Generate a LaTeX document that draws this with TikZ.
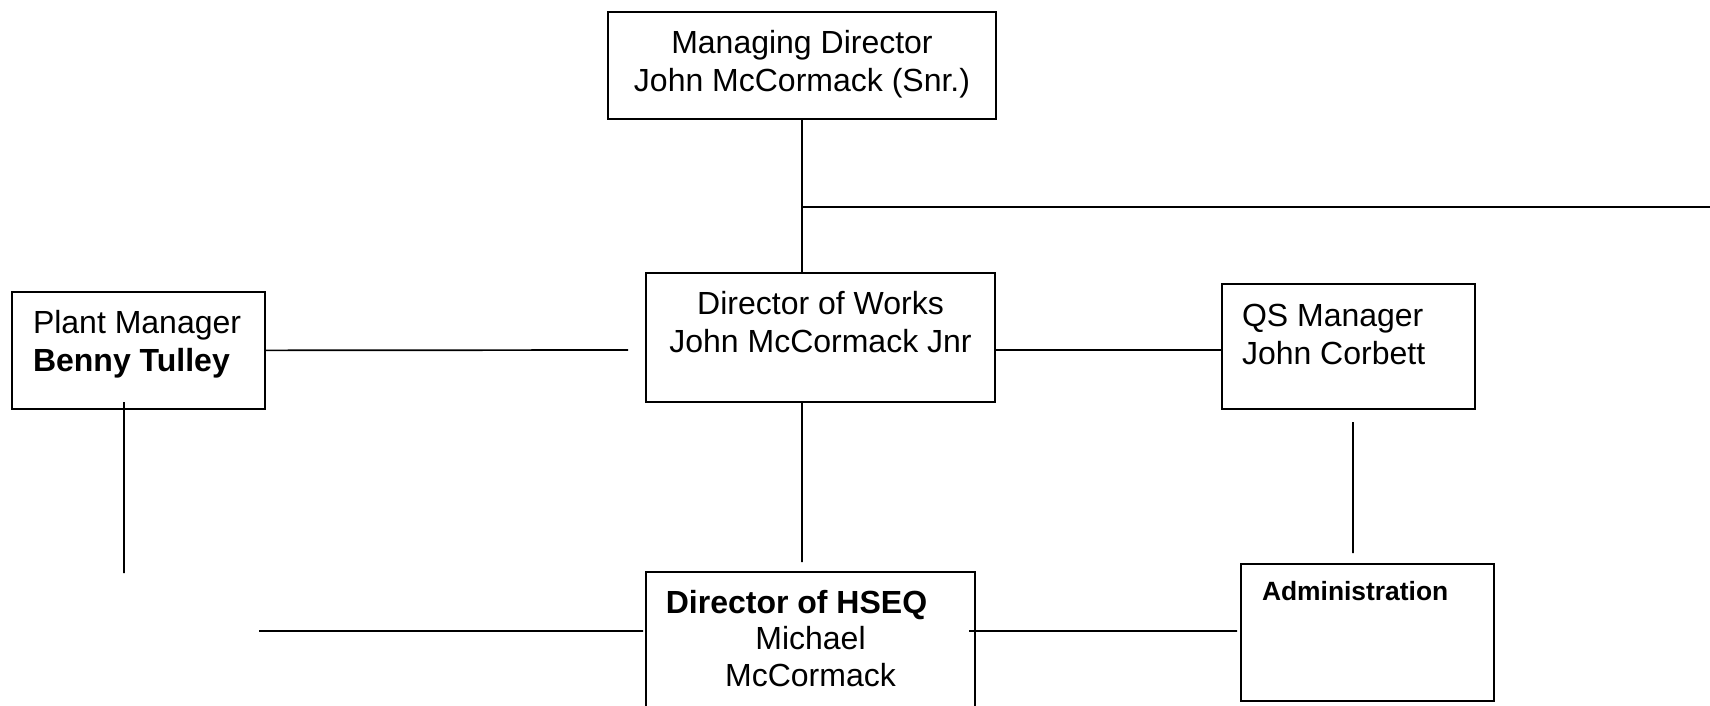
\documentclass[tikz,border=0pt]{standalone}
\usepackage{fontspec}
\setmainfont{Liberation Sans}
\usetikzlibrary{positioning}
\tikzset{
    box/.style={draw, line width=1pt, rectangle, inner sep=0pt},
    txt/.style={inner sep=0pt, outer sep=0pt, font=\fontsize{16}{19}\selectfont},
    smalltxt/.style={inner sep=0pt, outer sep=0pt, font=\fontsize{13.2}{16}\selectfont\bfseries},
    link/.style={line width=.85pt},
}

\begin{document}
\begin{tikzpicture}[x=.5pt, y=-.5pt]
        \useasboundingbox (0,0) rectangle (1710,706);
        \clip (0,0) rectangle (1710,706);
        % Kästen
        \node[box, minimum width=194pt, minimum height=53.5pt] (md) at (802,65.5) {};
        \node[box, minimum width=174.5pt, minimum height=64.5pt] (works) at (820.5,337.5) {};
        \node[box, minimum width=126.5pt, minimum height=58.5pt] (plant) at (138.5,350.5) {};
        \node[box, minimum width=126.5pt, minimum height=62.5pt] (qs) at (1348.5,346.5) {};
        \node[box, minimum width=164.5pt, minimum height=80pt] (hseq) at (810.5,652) {};
        \node[box, minimum width=126.5pt, minimum height=68.5pt] (admin) at (1367.5,632.5) {};
        % Beschriftungen
        \node[txt, align=center, below=9.5pt of md.north] (mdtext)
            {Managing Director\\John McCormack (Snr.)};
        \node[txt, align=center, below=9.5pt of works.north] (workstext)
            {Director of Works\\John McCormack Jnr};
        \node[txt, align=left, below right=9.5pt and 11pt of plant.north west] (planttext)
            {Plant Manager\\\textbf{Benny Tulley}};
        \node[txt, align=left, below right=10.5pt and 10.5pt of qs.north west] (qstext)
            {QS Manager\\John Corbett};
        \node[txt, align=center, font=\fontsize{16}{18.3}\selectfont, below=9.5pt of hseq.north] (hseqtext)
            {\textbf{Director of HSEQ}\hspace*{14pt}\\Michael\\McCormack};
        \node[smalltxt, anchor=north west, below right=9pt and 11pt of admin.north west] (admintext)
            {Administration};
        % Verbindungen
        \coordinate (brancheast) at (1712,207);
        \coordinate (plantend) at (628,350);
        \coordinate (worksdown) at (802,562);
        \coordinate (qsup) at (1353,422);
        \coordinate (qsdown) at (1353,553);
        \coordinate (plantup) at (124,402);
        \coordinate (plantdown) at (124,573);
        \coordinate (lowwest) at (259,631);
        \coordinate (loweast) at (643,631);
        \coordinate (hseqeast) at (969,631);
        \coordinate (adminwest) at (1237,631);
        \draw[link]
        (md) -- (md |- works.north)
        (md.south |- brancheast) -- (brancheast)
        (plant) -- (plantend)
        (works.east |- plantend) -- (qs.west |- plantend)
        (works.south -| md.south) -- (worksdown)
        (qsup) -- (qsdown)
        (plantup) -- (plantdown)
        (lowwest) -- (loweast)
        (hseqeast) -- (adminwest)
        ;
    \end{tikzpicture}
\end{document}
